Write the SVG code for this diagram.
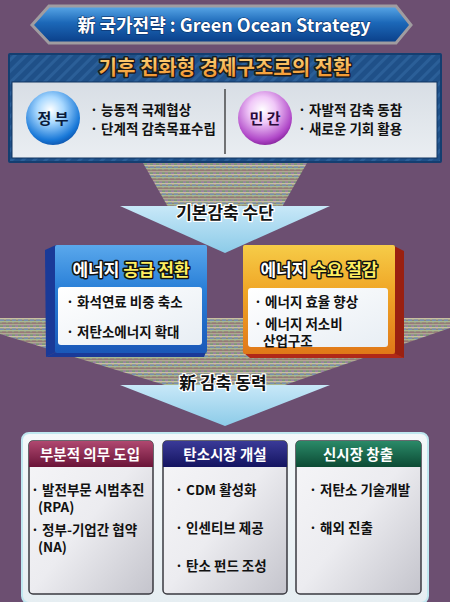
<svg xmlns="http://www.w3.org/2000/svg" width="450" height="602" viewBox="0 0 450 602">
<defs>
<style>
.k{font-family:"Noto Sans CJK KR","Noto Sans",sans-serif;font-weight:bold}
.bul{font-size:13.5px;fill:#111}
.ttl{font-size:17px;stroke:#111;stroke-width:3;paint-order:stroke;stroke-linejoin:round}
.arrtxt{font-size:17px;fill:#111;stroke:#fff;stroke-width:2.5;paint-order:stroke;stroke-linejoin:round}
.hdr{font-size:14.5px;fill:#fff}
</style>
<linearGradient id="bannerG" x1="0" y1="0" x2="0" y2="1">
<stop offset="0" stop-color="#5aa8e8"/><stop offset="0.45" stop-color="#1c68b8"/><stop offset="1" stop-color="#0a3e88"/>
</linearGradient>
<pattern id="stripes" width="8" height="8" patternUnits="userSpaceOnUse" patternTransform="rotate(45)">
<rect width="8" height="8" fill="#1f5088"/><rect width="3" height="8" fill="#2b5f98"/>
</pattern>
<linearGradient id="innerG" x1="0" y1="0" x2="0" y2="1">
<stop offset="0" stop-color="#d8dee5"/><stop offset="1" stop-color="#eaeef2"/>
</linearGradient>
<linearGradient id="orangeTxt" x1="0" y1="0" x2="0" y2="1">
<stop offset="0" stop-color="#ffe08a"/><stop offset="1" stop-color="#f08a20"/>
</linearGradient>
<radialGradient id="blueBall" cx="0.45" cy="0.35" r="0.7">
<stop offset="0" stop-color="#ffffff"/><stop offset="0.35" stop-color="#a8d8ff"/><stop offset="0.8" stop-color="#1878d8"/><stop offset="1" stop-color="#0a4aa0"/>
</radialGradient>
<radialGradient id="purpleBall" cx="0.45" cy="0.35" r="0.7">
<stop offset="0" stop-color="#ffffff"/><stop offset="0.35" stop-color="#f0c8f8"/><stop offset="0.8" stop-color="#b048c8"/><stop offset="1" stop-color="#7a1890"/>
</radialGradient>
<pattern id="noise" width="6" height="9" patternUnits="userSpaceOnUse">
<rect width="6" height="9" fill="#8c8878"/>
<rect y="0" width="6" height="1.5" fill="#b0a890"/>
<rect y="1.5" width="3" height="1.5" fill="#7a9a78"/>
<rect x="3" y="1.5" width="3" height="1.5" fill="#9a80a8"/>
<rect y="3" width="6" height="1.5" fill="#c8c0a0"/>
<rect y="4.5" width="4" height="1.5" fill="#7890b0"/>
<rect y="6" width="6" height="1.5" fill="#a8b890"/>
<rect x="2" y="7.5" width="4" height="1.5" fill="#987878"/>
</pattern>
<linearGradient id="arrowG" x1="0" y1="0" x2="0" y2="1">
<stop offset="0" stop-color="#c8e8f8"/><stop offset="1" stop-color="#8ccbe8"/>
</linearGradient>
<linearGradient id="blueFace" x1="0" y1="0" x2="0" y2="1">
<stop offset="0" stop-color="#5aa8ec"/><stop offset="0.4" stop-color="#2a80d8"/><stop offset="1" stop-color="#1a58b8"/>
</linearGradient>
<linearGradient id="orangeFace" x1="0" y1="0" x2="0" y2="1">
<stop offset="0" stop-color="#f6cc48"/><stop offset="0.4" stop-color="#f0a828"/><stop offset="1" stop-color="#e07818"/>
</linearGradient>
<linearGradient id="whiteBox" x1="0" y1="0" x2="1" y2="1">
<stop offset="0" stop-color="#ffffff"/><stop offset="1" stop-color="#e8eef4"/>
</linearGradient>
<linearGradient id="panelG" x1="0" y1="0" x2="0" y2="1">
<stop offset="0" stop-color="#f4f8fa"/><stop offset="1" stop-color="#e6eef2"/>
</linearGradient>
<linearGradient id="bodyG" x1="0" y1="0" x2="1" y2="1">
<stop offset="0" stop-color="#f6f6f8"/><stop offset="0.5" stop-color="#ececf0"/><stop offset="1" stop-color="#c4c4cc"/>
</linearGradient>
<linearGradient id="maroon" x1="0" y1="0" x2="0" y2="1">
<stop offset="0" stop-color="#b04870"/><stop offset="1" stop-color="#6a1438"/>
</linearGradient>
<linearGradient id="navy" x1="0" y1="0" x2="0" y2="1">
<stop offset="0" stop-color="#3a3a98"/><stop offset="1" stop-color="#141460"/>
</linearGradient>
<linearGradient id="green" x1="0" y1="0" x2="0" y2="1">
<stop offset="0" stop-color="#2a8a68"/><stop offset="1" stop-color="#0c4a34"/>
</linearGradient>
</defs>

<rect width="450" height="602" fill="#6c4f71"/>

<!-- background noise shapes -->
<g id="noise-shapes">
<polygon points="143,163 307,163 282,207 168,207" fill="url(#noise)"/>
<polygon points="0,318 450,318 450,328 282,386 168,386 0,334" fill="url(#noise)"/>
</g>

<!-- top banner -->
<g id="banner">
<polygon points="32,25 49,6 396,6 411,25 396,43 49,43" fill="url(#bannerG)" stroke="#a09ca0" stroke-width="3"/>
<text x="224" y="32" text-anchor="middle" class="k" font-size="18" fill="#fff" stroke="#0a2a60" stroke-width="1" paint-order="stroke">新 국가전략 : Green Ocean Strategy</text>
</g>

<!-- top panel -->
<g id="top-panel">
<rect x="8" y="53" width="434" height="110" rx="2" fill="#143e70"/>
<rect x="10" y="55" width="430" height="106" fill="url(#stripes)"/>
<rect x="12" y="82" width="425" height="76" fill="url(#innerG)" stroke="#103560" stroke-width="1"/>
<text x="225" y="75" text-anchor="middle" class="k" font-size="20" fill="url(#orangeTxt)" stroke="#1a1a1a" stroke-width="3" paint-order="stroke" stroke-linejoin="round">기후 친화형 경제구조로의 전환</text>
<line x1="225" y1="89" x2="225" y2="154" stroke="#222" stroke-width="1.2"/>
</g>

<g id="gov">
<circle cx="53" cy="118" r="27" fill="url(#blueBall)"/>
<text x="53" y="123.5" text-anchor="middle" class="k" font-size="15" fill="#0a1a3a">정 부</text>
<text x="90" y="115" class="k bul">· 능동적 국제협상</text>
<text x="90" y="134" class="k bul">· 단계적 감축목표수립</text>
</g>

<g id="private">
<circle cx="265" cy="118" r="27" fill="url(#purpleBall)"/>
<text x="265" y="123.5" text-anchor="middle" class="k" font-size="15" fill="#2a0a3a">민 간</text>
<text x="298" y="115" class="k bul">· 자발적 감축 동참</text>
<text x="298" y="134" class="k bul">· 새로운 기회 활용</text>
</g>

<!-- connectors (arrows) -->
<g id="connectors">
<polygon points="120,206 330,206 225,253" fill="url(#arrowG)"/>
<polygon points="120,385 330,385 225,426" fill="url(#arrowG)"/>
<text x="225" y="219" text-anchor="middle" class="k arrtxt">기본감축 수단</text>
<text x="223" y="389" text-anchor="middle" class="k arrtxt">新 감축 동력</text>
</g>

<!-- supply box -->
<g id="supply">
<polygon points="45,250 56,245 56,352 46,357" fill="#1a3a98"/>
<polygon points="46,357 56,352 206,352 204,357" fill="#1a3a98"/>
<rect x="55" y="245" width="152" height="108" rx="2" fill="url(#blueFace)"/>
<rect x="58" y="287" width="144" height="58" rx="3" fill="url(#whiteBox)"/>
<text x="131" y="276" text-anchor="middle" class="k ttl"><tspan fill="#fff">에너지 </tspan><tspan fill="#ffef60">공급 전환</tspan></text>
<text x="66" y="307" class="k bul">· 화석연료 비중 축소</text>
<text x="66" y="337" class="k bul">· 저탄소에너지 확대</text>
</g>

<!-- demand box -->
<g id="demand">
<polygon points="394,246 404,251 404,358 394,354" fill="#9a2010"/>
<polygon points="244,353 394,353 404,358 250,358" fill="#b02818"/>
<rect x="243" y="245" width="152" height="109" rx="2" fill="url(#orangeFace)"/>
<rect x="248" y="288" width="140" height="59" rx="3" fill="url(#whiteBox)"/>
<text x="319" y="276" text-anchor="middle" class="k ttl"><tspan fill="#fff">에너지 </tspan><tspan fill="#ffef60">수요 절감</tspan></text>
<text x="254" y="307" class="k bul">· 에너지 효율 향상</text>
<text x="254" y="329" class="k bul">· 에너지 저소비</text>
<text x="263" y="346" class="k bul">산업구조</text>
</g>

<!-- bottom panel -->
<g id="bottom-panel">
<rect x="22" y="433" width="406" height="170" rx="7" fill="url(#panelG)" stroke="#bfe8f0" stroke-width="2"/>
</g>

<g id="obligation">
<rect x="29" y="441" width="124" height="153" rx="4" fill="url(#bodyG)" stroke="#3a3a40" stroke-width="1.5"/>
<path d="M29,467 V445 a4,4 0 0 1 4,-4 H149 a4,4 0 0 1 4,4 V467 Z" fill="url(#maroon)"/>
<text x="90" y="460" text-anchor="middle" class="k hdr">부분적 의무 도입</text>
<text x="31" y="495" class="k bul">· 발전부문 시범추진</text>
<text x="38" y="512" class="k bul">(RPA)</text>
<text x="31" y="535" class="k bul">· 정부-기업간 협약</text>
<text x="38" y="552" class="k bul">(NA)</text>
</g>

<g id="carbon-market">
<rect x="163" y="441" width="124" height="153" rx="4" fill="url(#bodyG)" stroke="#3a3a40" stroke-width="1.5"/>
<path d="M163,467 V445 a4,4 0 0 1 4,-4 H283 a4,4 0 0 1 4,4 V467 Z" fill="url(#navy)"/>
<text x="225" y="460" text-anchor="middle" class="k hdr">탄소시장 개설</text>
<text x="175" y="495" class="k bul">· CDM 활성화</text>
<text x="175" y="533" class="k bul">· 인센티브 제공</text>
<text x="175" y="571" class="k bul">· 탄소 펀드 조성</text>
</g>

<g id="new-market">
<rect x="296" y="441" width="125" height="153" rx="4" fill="url(#bodyG)" stroke="#3a3a40" stroke-width="1.5"/>
<path d="M296,467 V445 a4,4 0 0 1 4,-4 H417 a4,4 0 0 1 4,4 V467 Z" fill="url(#green)"/>
<text x="358" y="460" text-anchor="middle" class="k hdr">신시장 창출</text>
<text x="309" y="495" class="k bul">· 저탄소 기술개발</text>
<text x="309" y="533" class="k bul">· 해외 진출</text>
</g>
</svg>
